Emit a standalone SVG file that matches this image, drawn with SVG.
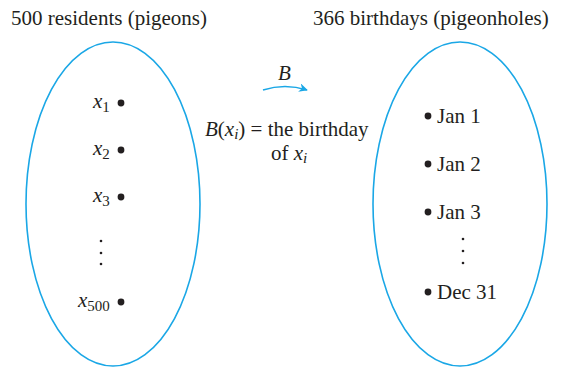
<svg xmlns="http://www.w3.org/2000/svg" width="568" height="370" viewBox="0 0 568 370">
<style>
text{font-family:"Liberation Serif","Times New Roman",serif;font-size:21px;fill:#231f20}
.it{font-style:italic}
.sub{font-size:15px}
.set{fill:none;stroke:#1aa7e6;stroke-width:1.6}
.dot{fill:#231f20}
.sdot{fill:#231f20}
.conn{fill:none;stroke:#1aa7e6;stroke-width:1.6}
</style>
<defs>
<marker id="ah" viewBox="0 0 10 10" refX="9" refY="5" markerWidth="5.5" markerHeight="5.5" orient="auto" markerUnits="strokeWidth">
<path d="M0,0 L10,5 L0,10 L3,5 Z" fill="#1aa7e6"/>
</marker>
</defs>
<g id="title-left"><text x="11" y="25">500 residents (pigeons)</text></g>
<g id="title-right"><text x="313" y="25">366 birthdays (pigeonholes)</text></g>
<g id="set-residents"><ellipse class="set" cx="113" cy="204" rx="87" ry="162"/></g>
<g id="set-birthdays"><ellipse class="set" cx="460" cy="204" rx="87" ry="162"/></g>
<g id="x1"><text x="93" y="108" class="it">x<tspan class="sub" dy="4" font-style="normal">1</tspan></text><circle class="dot" cx="121" cy="103" r="3.4"/></g>
<g id="x2"><text x="93" y="155" class="it">x<tspan class="sub" dy="4" font-style="normal">2</tspan></text><circle class="dot" cx="121" cy="150" r="3.4"/></g>
<g id="x3"><text x="93" y="202" class="it">x<tspan class="sub" dy="4" font-style="normal">3</tspan></text><circle class="dot" cx="121" cy="197" r="3.4"/></g>
<g id="vdots-left"><circle class="sdot" cx="101" cy="241" r="1.3"/><circle class="sdot" cx="101" cy="253" r="1.3"/><circle class="sdot" cx="101" cy="264" r="1.3"/></g>
<g id="x500"><text x="78" y="307" class="it">x<tspan class="sub" dy="4" font-style="normal">500</tspan></text><circle class="dot" cx="121" cy="302" r="3.4"/></g>
<g id="jan1"><circle class="dot" cx="428" cy="116" r="3.4"/><text x="437" y="123">Jan 1</text></g>
<g id="jan2"><circle class="dot" cx="428" cy="164" r="3.4"/><text x="437" y="171">Jan 2</text></g>
<g id="jan3"><circle class="dot" cx="428" cy="212" r="3.4"/><text x="437" y="219">Jan 3</text></g>
<g id="vdots-right"><circle class="sdot" cx="463" cy="239" r="1.3"/><circle class="sdot" cx="463" cy="251" r="1.3"/><circle class="sdot" cx="463" cy="263" r="1.3"/></g>
<g id="dec31"><circle class="dot" cx="428" cy="292" r="3.4"/><text x="437" y="299">Dec 31</text></g>
<g id="connectors">
<path class="conn" d="M263,90 Q285,83 307,90" marker-end="url(#ah)"/>
</g>
<g id="label-B"><text x="278" y="80" class="it">B</text></g>
<g id="label-def">
<text x="205" y="136"><tspan class="it">B</tspan>(<tspan class="it">x</tspan><tspan class="sub it" dy="3">i</tspan><tspan dy="-3">) = the birthday</tspan></text>
<text x="271" y="160">of <tspan class="it">x</tspan><tspan class="sub it" dy="3">i</tspan></text>
</g>
</svg>
